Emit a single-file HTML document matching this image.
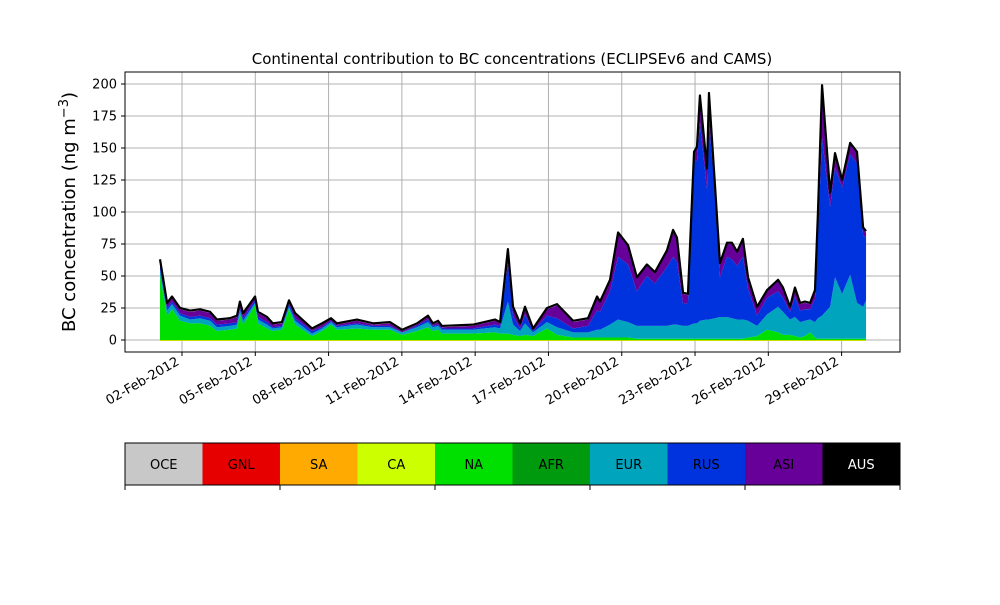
<!DOCTYPE html>
<html><head><meta charset="utf-8"><style>
body{margin:0;background:#fff;font-family:"Liberation Sans","DejaVu Sans",sans-serif}
svg text{font-family:"DejaVu Sans","Liberation Sans",sans-serif}
</style></head><body>
<svg id="chart" width="1000" height="600" viewBox="0 0 1000 600" xmlns="http://www.w3.org/2000/svg"></svg>
<script>
const days=[1.10,1.39,1.59,1.92,2.33,2.74,3.15,3.43,3.96,4.25,4.37,4.50,4.99,5.11,5.48,5.72,6.09,6.38,6.63,7.32,7.73,8.10,8.34,9.16,9.82,10.51,11.01,11.62,12.07,12.27,12.48,12.64,13.91,14.81,15.02,15.34,15.55,15.84,16.04,16.37,16.94,17.35,18.01,18.62,18.99,19.11,19.52,19.85,20.26,20.62,21.03,21.36,21.85,22.10,22.26,22.51,22.71,22.96,23.08,23.20,23.49,23.57,23.82,24.02,24.31,24.51,24.72,24.96,25.17,25.54,25.95,26.40,26.60,26.89,27.09,27.30,27.50,27.71,27.91,28.03,28.20,28.53,28.73,29.02,29.35,29.63,29.88,30.00];
const naVals=[50,19,24,15,13,13,11,7,8,9,20,12,27,13,9,7,8,24,12,3,7,12,8,9,8,8,4,7,10,7,8,5,5,6,5,5,4,3,4,3,9,4,2,2,2,2,2,2,2,1,1,1,1,1,1,1,1,1,1,1,1,1,1,1,1,1,1,1,2,3,8,6,4,4,3,2,3,6,2,1,1,1,1,1,1,1,1,1];
const eurVals=[5,4,4,4,3,4,4,3,3,3,3,3,2,3,3,2,2,2,3,2,2,2,2,3,2,2,2,3,4,3,3,3,3,4,4,25,8,4,9,3,5,6,4,4,6,6,10,14,12,10,10,10,10,11,11,10,10,12,12,14,15,15,16,17,17,16,15,15,13,8,12,20,18,12,15,12,12,10,12,16,18,25,48,35,50,28,25,30];
const rusVals=[4,2,2,2,2,2,2,2,2,2,2,2,2,2,2,1,1,2,2,2,1,1,1,1,1,1,0,1,2,1,1,1,1,2,2,30,7,2,7,1,5,7,3,5,15,14,26,49,45,27,39,33,46,53,49,17,18,128,127,155,102,156,97,31,47,46,42,49,25,8,13,12,11,6,16,9,9,8,18,66,139,78,86,83,94,109,56,49];
const asiVals=[3,3,3,3,4,4,4,3,3,4,4,3,2,3,3,2,2,2,3,1,2,1,1,2,1,2,1,1,2,1,2,1,2,3,2,10,6,3,5,1,5,10,5,5,10,7,8,18,14,10,8,8,12,20,18,8,6,5,10,20,15,20,5,10,10,12,10,13,8,6,5,8,7,3,6,5,5,4,6,15,40,10,10,5,8,8,5,4];
const yTicks=[0,25,50,75,100,125,150,175,200];
const xTickDays=[2,5,8,11,14,17,20,23,26,29];
const xTickLabels=["02-Feb-2012","05-Feb-2012","08-Feb-2012","11-Feb-2012","14-Feb-2012","17-Feb-2012","20-Feb-2012","23-Feb-2012","26-Feb-2012","29-Feb-2012"];
const regions=["OCE","GNL","SA","CA","NA","AFR","EUR","RUS","ASI","AUS"];
const regionColors=["#c8c8c8","#e60000","#ffaa00","#ccff00","#00e000","#009a0e","#00a5bd","#0033dd","#660099","#000000"];

const svg=document.getElementById('chart');const NS="http://www.w3.org/2000/svg";
function el(t,a,p){const e=document.createElementNS(NS,t);for(const k in a)e.setAttribute(k,a[k]);(p||svg).appendChild(e);return e;}
const X=d=>182+(d-2)*24.43, Y=v=>340-v*1.28;
const L=125,R=900,T=72,B=352;
// grid
const grid=el('g',{});


yTicks.forEach(v=>el('line',{x1:L,x2:R,y1:Y(v),y2:Y(v),stroke:'#b0b0b0','stroke-width':1},grid));
xTickDays.forEach(d=>el('line',{x1:X(d),x2:X(d),y1:T,y2:B,stroke:'#b0b0b0','stroke-width':1},grid));
// stacks
const layers=[naVals,eurVals,rusVals,asiVals];const cols=["#00e000","#00a5bd","#0033dd","#660099"];const names=["area-na","area-eur","area-rus","area-asi"];
let base=days.map(()=>0);
layers.forEach((arr,li)=>{
 const top=base.map((b,i)=>b+arr[i]);
 let d='M'+days.map((t,i)=>X(t)+','+Y(top[i])).join('L');
 for(let i=days.length-1;i>=0;i--)d+='L'+X(days[i])+','+Y(base[i]);
 const p=el('path',{d:d+'Z',fill:cols[li]});
 
 
 base=top;
});
const tot=base.map(v=>v+1);
const ln=el('path',{d:'M'+days.map((t,i)=>X(t)+','+Y(tot[i])).join('L'),fill:'none',stroke:'#000','stroke-width':2.2,'stroke-linejoin':'round'});


el('line',{x1:X(days[0]),x2:X(days[days.length-1]),y1:Y(0)+0.5,y2:Y(0)+0.5,stroke:'#ccdd00','stroke-width':1});
// frame
el('rect',{x:L,y:T,width:R-L,height:B-T,fill:'none',stroke:'#000','stroke-width':1});
yTicks.forEach(v=>{el('line',{x1:L-4,x2:L,y1:Y(v),y2:Y(v),stroke:'#000'});const t=el('text',{x:L-8,y:Y(v)+4.5,'text-anchor':'end','font-size':13});t.textContent=v;
 });
xTickDays.forEach((d,i)=>{el('line',{x1:X(d),x2:X(d),y1:B,y2:B+4,stroke:'#000'});const t=el('text',{x:X(d)-2,y:B+12,'text-anchor':'end','font-size':13,transform:`rotate(-30 ${X(d)-2} ${B+12})`});t.textContent=xTickLabels[i];
 });
const ti=el('text',{x:512,y:64,'text-anchor':'middle','font-size':15});ti.textContent='Continental contribution to BC concentrations (ECLIPSEv6 and CAMS)';

const yl=el('text',{x:75,y:212,'text-anchor':'middle','font-size':18,transform:'rotate(-90 75 212)'});yl.innerHTML='BC concentration (ng m<tspan dy="-7" font-size="13">−3</tspan><tspan dy="7">)</tspan>';

// colorbar
const cw=(R-L)/10;
regions.forEach((r,i)=>{
 const g=el('g',{});
 
 
 el('rect',{x:L+i*cw,y:443,width:cw,height:42,fill:regionColors[i]},g);
 const t=el('text',{x:L+i*cw+cw/2,y:469,'text-anchor':'middle','font-size':13,fill:r==='AUS'?'#fff':'#000'},g);t.textContent=r;
});
el('rect',{x:L,y:443,width:R-L,height:42,fill:'none',stroke:'#000'});
for(let i=0;i<=5;i++)el('line',{x1:L+i*2*cw,x2:L+i*2*cw,y1:485,y2:490,stroke:'#000'});
</script>
</body></html>
